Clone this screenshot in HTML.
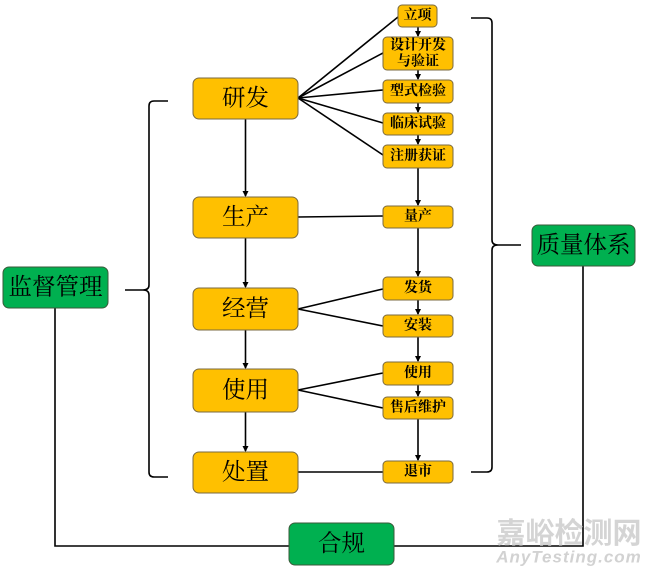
<!DOCTYPE html>
<html><head><meta charset="utf-8"><style>
html,body{margin:0;padding:0;background:#fff;}
svg{display:block;}
.b{fill:#FFC000;stroke:#7a6a40;stroke-width:1;}
.g{fill:#00B050;stroke:#3a5a3a;stroke-width:1;}
.t{font-family:"Liberation Serif","Noto Serif CJK SC",serif;fill:#000;text-anchor:middle;dominant-baseline:central;}
.bt{font-size:23.5px;}
.st{font-size:14px;font-weight:bold;}
.l{stroke:#000;stroke-width:1.6;fill:none;}
</style></head><body>
<svg width="650" height="572" viewBox="0 0 650 572" xmlns="http://www.w3.org/2000/svg">
<defs>
<marker id="a" markerWidth="6" markerHeight="6" refX="5" refY="3" orient="auto" markerUnits="userSpaceOnUse">
<path d="M0,0 L6,3 L0,6 Z" fill="#000"/>
</marker>
</defs>

<g class="l">
<line x1="298" y1="98" x2="398" y2="17"/>
<line x1="298" y1="98" x2="383" y2="53"/>
<line x1="298" y1="98" x2="383" y2="90"/>
<line x1="298" y1="98" x2="383" y2="123"/>
<line x1="298" y1="98" x2="383" y2="155"/>
<line x1="298" y1="217" x2="383" y2="216"/>
<line x1="298" y1="309" x2="383" y2="289"/>
<line x1="298" y1="309" x2="383" y2="326"/>
<line x1="298" y1="390" x2="383" y2="373"/>
<line x1="298" y1="390" x2="383" y2="408"/>
<line x1="298" y1="472" x2="383" y2="472"/>
</g>

<g class="l" marker-end="url(#a)">
<line x1="245.5" y1="119" x2="245.5" y2="196"/>
<line x1="245.5" y1="238" x2="245.5" y2="287"/>
<line x1="245.5" y1="330" x2="245.5" y2="368"/>
<line x1="245.5" y1="412" x2="245.5" y2="451"/>
<line x1="418" y1="27" x2="418" y2="36"/>
<line x1="418" y1="70" x2="418" y2="79"/>
<line x1="418" y1="103" x2="418" y2="112"/>
<line x1="418" y1="135" x2="418" y2="144"/>
<line x1="418" y1="168" x2="418" y2="205"/>
<line x1="418" y1="228" x2="418" y2="276"/>
<line x1="418" y1="300" x2="418" y2="314"/>
<line x1="418" y1="337" x2="418" y2="361"/>
<line x1="418" y1="385" x2="418" y2="396"/>
<line x1="418" y1="419" x2="418" y2="460"/>
</g>

<path class="l" stroke-width="2" d="M168,101 L154,101 Q149,101 149,106 L149,285 Q149,290 143,290 L125,290 M143,290 Q149,290 149,295 L149,472 Q149,477 154,477 L168,477"/>
<path class="l" stroke-width="2" d="M471,18 L487,18 Q492,18 492,23 L492,240 Q492,245 498,245 L521,245 M498,245 Q492,245 492,250 L492,467 Q492,472 487,472 L471,472"/>

<path class="l" d="M55,308 L55,546 L290,546 M394,546 L583,546 L583,266"/>

<text x="569" y="531" font-family="'Noto Sans CJK SC',sans-serif" font-size="29" fill="#cccccc" fill-opacity="0.85" text-anchor="middle" dominant-baseline="central" font-weight="bold">嘉峪检测网</text>
<text x="569" y="557" font-family="'Liberation Sans',sans-serif" font-size="17" font-style="italic" font-weight="bold" fill="#d2d2d2" text-anchor="middle" dominant-baseline="central" letter-spacing="1">AnyTesting.com</text>

<rect class="b" x="193" y="78" width="105" height="41" rx="6"/>
<text class="t bt" x="245.5" y="98.5">研发</text>
<rect class="b" x="193" y="197" width="105" height="41" rx="6"/>
<text class="t bt" x="245.5" y="217.5">生产</text>
<rect class="b" x="193" y="288" width="105" height="42" rx="6"/>
<text class="t bt" x="245.5" y="309">经营</text>
<rect class="b" x="193" y="369" width="105" height="43" rx="6"/>
<text class="t bt" x="245.5" y="390.5">使用</text>
<rect class="b" x="193" y="452" width="105" height="41" rx="6"/>
<text class="t bt" x="245.5" y="472.5">处置</text>

<rect class="b" x="398" y="5" width="39" height="22" rx="4"/>
<text class="t st" x="417.5" y="16">立项</text>
<rect class="b" x="383" y="37" width="70" height="33" rx="4"/>
<text class="t st" x="418" y="46">设计开发</text>
<text class="t st" x="418" y="62">与验证</text>
<rect class="b" x="383" y="80" width="70" height="23" rx="4"/>
<text class="t st" x="418" y="91.5">型式检验</text>
<rect class="b" x="383" y="113" width="70" height="22" rx="4"/>
<text class="t st" x="418" y="124">临床试验</text>
<rect class="b" x="383" y="145" width="70" height="23" rx="4"/>
<text class="t st" x="418" y="156.5">注册获证</text>
<rect class="b" x="383" y="206" width="70" height="22" rx="4"/>
<text class="t st" x="418" y="217" font-size="12">量产</text>
<rect class="b" x="383" y="277" width="70" height="23" rx="4"/>
<text class="t st" x="418" y="288.5">发货</text>
<rect class="b" x="383" y="315" width="70" height="22" rx="4"/>
<text class="t st" x="418" y="326">安装</text>
<rect class="b" x="383" y="362" width="70" height="23" rx="4"/>
<text class="t st" x="418" y="373.5">使用</text>
<rect class="b" x="383" y="397" width="70" height="22" rx="4"/>
<text class="t st" x="418" y="408">售后维护</text>
<rect class="b" x="383" y="461" width="70" height="22" rx="4"/>
<text class="t st" x="418" y="472">退市</text>

<rect class="g" x="3" y="267" width="105" height="41" rx="6"/>
<text class="t bt" x="55.5" y="287.5">监督管理</text>
<rect class="g" x="532" y="225" width="103" height="41" rx="6"/>
<text class="t bt" x="583.5" y="245.5">质量体系</text>
<rect class="g" x="289" y="523" width="105" height="42" rx="6"/>
<text class="t bt" x="341.5" y="544">合规</text>
</svg>
</body></html>
